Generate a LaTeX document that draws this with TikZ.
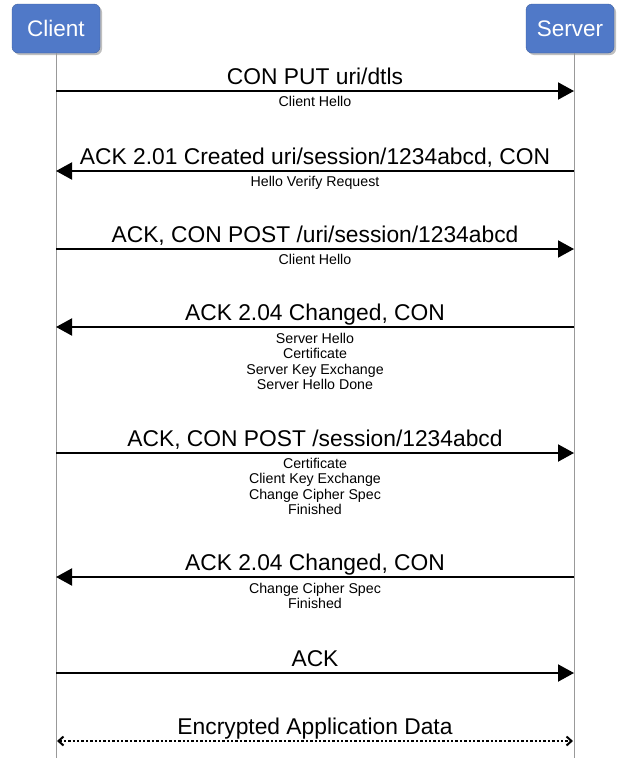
\documentclass[tikz,border=0pt]{standalone}
\usepackage{fontspec}
\setmainfont{Liberation Sans}
\usetikzlibrary{arrows.meta,shadows}
\definecolor{boxblue}{HTML}{5079C8}
\begin{document}
\begin{tikzpicture}[x=1pt,y=-1pt,
  actor/.style={draw=boxblue!80!black,fill=boxblue,rounded corners=6pt,minimum width=88pt,minimum height=49pt,
    text=white,font=\fontsize{22.5}{26}\selectfont,drop shadow={shadow xshift=2pt,shadow yshift=-2pt,opacity=0.5}},
  life/.style={draw=gray!80,line width=0.8pt},
  msg/.style={line width=2pt,-{Triangle[length=16pt,width=17pt]}},
  big/.style={font=\fontsize{22.8}{26}\selectfont,anchor=base},
  small/.style={font=\fontsize{14.2}{15.5}\selectfont,align=center,anchor=north,inner sep=0pt}]
\useasboundingbox (0,0) rectangle (624,758);
\node[actor] (client) at (56,28.5) {Client};
\node[actor] (server) at (570,28.5) {Server};
\coordinate (cb) at (56,758);
\coordinate (sb) at (574,758);
\draw[life] (client.south) -- (cb);
\draw[life] (574,53) coordinate (st) -- (sb);
% messages
\foreach \y/\dir/\lab [count=\i] in {91/r/{CON PUT uri/dtls},171/l/{ACK 2.01 Created uri/session/1234abcd, CON},249/r/{ACK, CON POST /uri/session/1234abcd},327/l/{ACK 2.04 Changed, CON},453/r/{ACK, CON POST /session/1234abcd},577/l/{ACK 2.04 Changed, CON},673/r/{ACK}}{
  \coordinate (c\i) at (56,\y);
  \coordinate (s\i) at (574,\y);
  \node[big] (lab\i) at (315,\y-7) {\lab};
}
\draw[msg] (c1) -- (s1);
\draw[msg] (s2) -- (c2);
\draw[msg] (c3) -- (s3);
\draw[msg] (s4) -- (c4);
\draw[msg] (c5) -- (s5);
\draw[msg] (s6) -- (c6);
\draw[msg] (c7) -- (s7);
\node[small] (sub1) at (315,96) {Client Hello};
\node[small] (sub2) at (315,176) {Hello Verify Request};
\node[small] (sub3) at (315,254) {Client Hello};
\node[small] (sub4) at (315,333) {Server Hello\\Certificate\\Server Key Exchange\\Server Hello Done};
\node[small] (sub5) at (315,458) {Certificate\\Client Key Exchange\\Change Cipher Spec\\Finished};
\node[small] (sub6) at (315,583) {Change Cipher Spec\\Finished};
% encrypted
\coordinate (c8) at (57,741);
\coordinate (s8) at (573,741);
\node[big] (lab8) at (315,734) {Encrypted Application Data};
\draw[line width=2.4pt,dash pattern=on 2.4pt off 2pt,{Straight Barb[length=5pt,width=9pt,line width=2pt]}-{Straight Barb[length=5pt,width=9pt,line width=2pt]}] (c8) -- (s8);
\end{tikzpicture}
\end{document}
